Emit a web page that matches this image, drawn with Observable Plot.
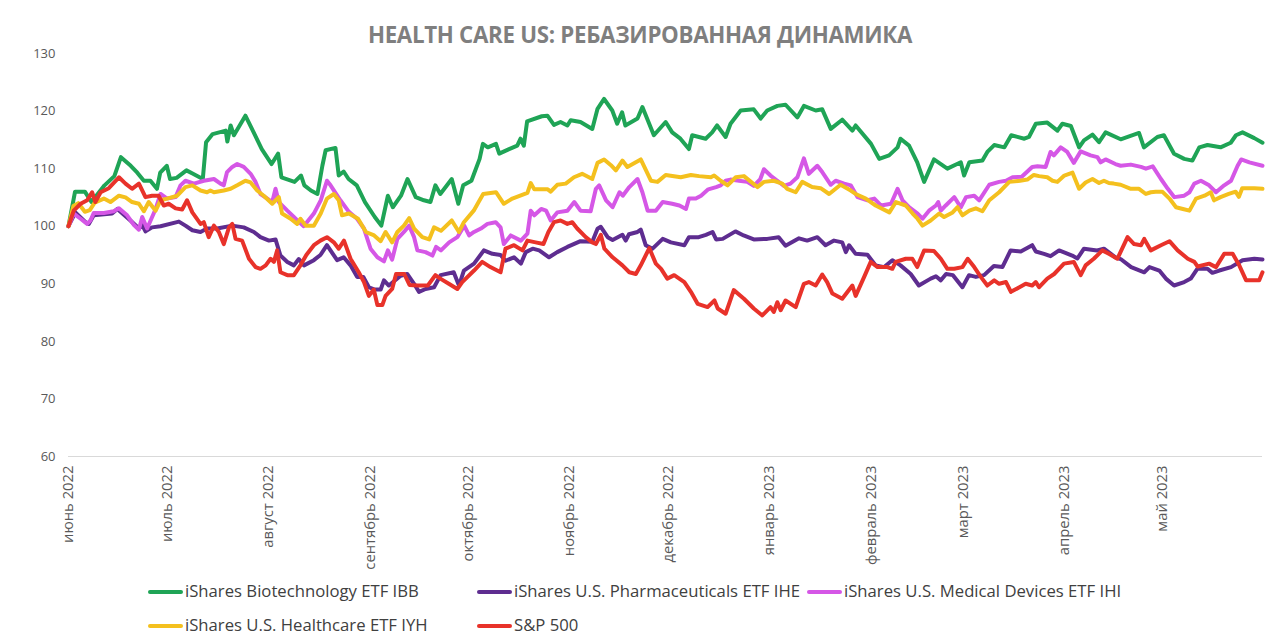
<!DOCTYPE html>
<html><head><meta charset="utf-8">
<script src="https://cdn.jsdelivr.net/npm/d3@7"></script>
<script src="https://cdn.jsdelivr.net/npm/@observablehq/plot@0.6"></script>
<style>
body{margin:0;background:#fff;}
#wrap{position:relative;width:1280px;height:642px;overflow:hidden;font-family:"Open Sans",sans-serif;}
#title{position:absolute;top:22px;left:0;width:1280px;text-align:center;font-size:22.3px;line-height:26px;font-weight:700;color:#7f7f7f;letter-spacing:-0.3px;}
#chart{position:absolute;top:0;left:0;}
.lg{position:absolute;font-size:16.7px;color:#404040;white-space:nowrap;line-height:20px;}
.lg i{display:inline-block;width:35px;height:4px;border-radius:2px;vertical-align:middle;margin-right:2px;position:relative;top:-1px;}
</style></head>
<body>
<div id="wrap">
<div id="title">HEALTH CARE US: РЕБАЗИРОВАННАЯ ДИНАМИКА</div>
<div id="chart"></div>
<div id="legend"></div>
</div>
<script>
const seriesNames = ["iShares Biotechnology ETF IBB","iShares U.S. Pharmaceuticals ETF IHE","iShares U.S. Medical Devices ETF IHI","iShares U.S. Healthcare ETF IYH","S&P 500"];
const seriesColors = ["#1fa456","#5e2d90","#d557e6","#f4c01e","#e8322a"];
const monthDates = ["2022-06-01","2022-07-01","2022-08-01","2022-09-01","2022-10-01","2022-11-01","2022-12-01","2023-01-01","2023-02-01","2023-03-01","2023-04-01","2023-05-01"];
const monthLabels = ["июнь 2022","июль 2022","август 2022","сентябрь 2022","октябрь 2022","ноябрь 2022","декабрь 2022","январь 2023","февраль 2023","март 2023","апрель 2023","май 2023"];
const yTicks = [60,70,80,90,100,110,120,130];
// [days since 2022-06-01, rebased value]
const IBB = [[0,100],[2,106],[5,106],[7,104.2],[11,107.1],[14,108.7],[16,112],[19,110.5],[21,109.3],[23,107.9],[25,107.9],[27,106.5],[28,109.3],[30,110.5],[31,108.2],[33,108.4],[36,109.7],[38,109.1],[41,108.2],[42,114.6],[44,116],[48,116.6],[48.5,114.7],[49.5,117.5],[50.5,115.8],[54,119.2],[56,116.9],[59,113.4],[62,110.8],[64,112.6],[65,108.5],[69,107.7],[71,108.8],[72,107.1],[74,106.2],[76,105.6],[77.5,110.5],[78.5,113.2],[81.5,113.6],[82.5,108.8],[84,109.5],[85.5,108.2],[88,107.1],[90.5,104.2],[93.5,101.6],[95.5,100.1],[97.5,105.3],[99,103.3],[101.5,105.3],[103.5,108.2],[106,105.05],[108.5,104.5],[110.5,104.2],[112,107.1],[113.5,105.6],[117,108.2],[119,103.9],[120.5,107.1],[123,107.9],[125.5,111.7],[126.5,114.3],[128,113.7],[130.5,114.3],[131.5,112.6],[134.5,113.4],[137,114],[138,115.2],[139,114],[140,118.2],[144.5,119.1],[146.2,119.2],[148.2,117.6],[150.2,118.1],[152.3,117.5],[153.3,118.4],[156.3,118.1],[159.9,116.9],[161.5,120.4],[163.5,122.1],[166,120.1],[167.5,117.8],[169,119.8],[170,117.5],[173.7,118.7],[175.2,120.7],[178.7,115.8],[182.3,118.1],[184.3,116.3],[186.8,115.2],[189.4,113.4],[190.4,115.8],[194.5,115.2],[196.5,116.3],[198,117.5],[200.6,115.5],[202.1,117.8],[205.2,120.1],[209.2,120.3],[211.3,118.7],[213.3,120.1],[216.4,120.9],[218.9,121.1],[222.5,118.9],[224.5,120.9],[228.1,120.1],[230.1,120.3],[232.7,116.9],[236.2,118.5],[239.3,116.6],[240.3,117.5],[245,114.3],[247.5,111.7],[250.5,112.3],[253.1,113.7],[254,115.2],[256.6,114],[259.1,111.1],[261.2,107.7],[264.2,111.6],[268.3,110],[272.4,111.1],[273.4,108.8],[275,111.1],[279,111.4],[280.5,112.9],[282.6,114.1],[285.7,113.7],[287.8,115.8],[291.8,115.2],[293.2,115.5],[295.3,117.8],[298.8,118],[301.9,116.6],[303.4,117.8],[306,117.4],[308.5,113.7],[310,114.9],[312.6,115.9],[314.6,114.6],[316.6,116.3],[321.2,115.1],[326.8,116.2],[328.3,113.7],[332.4,115.5],[334.4,115.8],[337.5,112.6],[340.6,111.7],[343.1,111.4],[345.2,113.7],[347.7,114.1],[351.7,113.7],[354.8,114.5],[356.4,115.8],[358.4,116.3],[362,115.3],[364.5,114.5]];
const IHE = [[0,100],[2.1,102.4],[5.2,100.7],[6.2,100.4],[7.7,101.9],[13.3,102.2],[14.9,103],[18.9,101],[21.5,99.6],[22.5,100.2],[23.5,99.1],[25.5,99.8],[28.1,100],[33.7,100.8],[35.7,100.1],[37.8,99.3],[40.3,99],[42.3,99.6],[45.4,99.6],[50,100.1],[53.5,99.8],[56.6,99],[58.6,98.1],[61.2,97.5],[63.2,97.7],[64.7,94.9],[66.8,93.8],[68.8,93.2],[70.3,94.3],[71.9,93.2],[74.9,94.1],[76.9,95],[78.9,96.7],[82,94.1],[84,94.6],[86.1,93.2],[88.1,91.2],[90,91.2],[91.7,89.4],[93.5,89],[95.3,89],[96.3,90.6],[97.8,89.7],[101.4,91.4],[103.4,91.7],[105.5,90],[107,88.6],[109,89.1],[111.6,89.4],[113.6,91.5],[117.6,92],[119.2,89.7],[120.7,92.3],[123.8,93.5],[126.8,95.8],[129.4,95.2],[131.9,95],[133.4,94],[136,94.6],[138.1,93.5],[139.6,95.5],[141.7,96.1],[143.7,95.8],[146.7,94.6],[149.2,95.5],[152.3,96.4],[156.3,97.4],[159.9,97.3],[161.5,99.55],[162.5,99.9],[164.6,98.1],[166.1,97.6],[169.1,98.5],[170.1,97.5],[171.1,98.6],[173.7,99],[174.7,99.4],[176.2,96.7],[178.3,96.1],[181.4,97.8],[183.9,97.2],[188,96.7],[189.4,98.1],[192.4,98.1],[194.6,98.5],[196.6,99],[197.7,97.7],[199.7,97.8],[203.6,99.1],[206.1,98.4],[209.2,97.7],[213.3,97.8],[216.8,98.1],[218.9,96.6],[223,97.9],[225.5,97.5],[228.6,98.1],[231.1,96.7],[233.7,97.5],[236.2,97.2],[237.3,95.5],[238.3,96.7],[240.3,95.2],[243.9,95.05],[246.4,93.2],[249,92.9],[251.5,94.1],[254,93.2],[257.1,91.7],[259.6,89.7],[263.2,90.9],[264.8,91.3],[266.3,90.6],[267.9,91.7],[270,91.5],[272.9,89.4],[274.9,91.5],[277,91.2],[279.5,91.5],[282.5,93.1],[285.1,92.9],[287.6,95.8],[290.7,95.6],[294.2,96.7],[295.3,95.6],[297.8,95.2],[299.8,94.8],[302.4,95.8],[306.4,94.9],[308,94.4],[310,96.1],[314,95.8],[316.1,96.1],[319.6,94.6],[321.2,94.3],[324.4,92.9],[328.4,92],[330,92.9],[333,92.3],[335,90.9],[337.5,89.7],[340.6,90.3],[342.6,90.9],[344.6,92.6],[347.7,92.6],[349.2,91.9],[351.3,92.3],[354.9,92.9],[358.4,94.1],[362,94.35],[364.5,94.2]];
const IHI = [[0,100],[1.6,102.2],[3.7,101.3],[5.7,100.4],[6.7,101],[7.7,102.3],[10.8,102.3],[13.8,102.6],[15.4,103.1],[17.9,101.9],[20,100.2],[21.5,99.4],[22.5,101.6],[24,99.6],[26.6,103],[28.1,105.6],[30.1,104.8],[32.7,105.05],[34.2,107.1],[35.7,107.9],[38.3,107.4],[41.3,107.9],[44.4,108.2],[46.4,107.4],[47.4,107.1],[48.4,109.4],[50,110.3],[51.5,110.8],[53.5,110.3],[55.6,109.1],[57.1,107.7],[58.6,105.6],[60.7,104.8],[62.2,104.2],[63.2,106.5],[64.2,104.2],[66.8,102.7],[68.8,101.6],[70.8,100.5],[71.8,100],[74.9,102.2],[77,104.5],[78.9,107.9],[80,107.1],[83,104.5],[85.6,102.5],[88.1,101.3],[90.2,99.6],[92.2,96.1],[94.3,94.6],[96.3,93.9],[97.5,95.8],[98.8,94.2],[100.4,97.8],[102.4,99],[104,100.1],[105.5,98.1],[106.5,95.8],[109,95.5],[111.1,94.9],[112.2,96.4],[113.7,95.8],[116.2,97.2],[118.7,98.1],[120.8,100.1],[122.3,98.4],[123.8,99],[125.9,99.6],[127.9,100.4],[130.4,100.7],[131.9,99.8],[132.9,96.9],[135,98.4],[138.1,97.5],[140.1,98.7],[141.1,102.7],[142.2,101.9],[144.3,103],[145.8,102.7],[147.2,101],[149.2,102.4],[152.3,102.7],[154.4,104.2],[156.3,102.7],[159.4,102.6],[161,106.5],[162,107.1],[164.1,104.5],[166.1,103.3],[168.2,105.9],[169.2,105.3],[171.2,106.8],[173.7,108.2],[175.2,105.9],[176.8,102.7],[179.3,102.7],[181.4,104.2],[184.3,103.9],[186.5,103.6],[188.5,103],[189.4,104.8],[191.5,104.8],[193.1,105.3],[195.3,106.4],[197.7,106.8],[199.1,107.1],[200.6,107.9],[202.1,108.1],[204.7,107.9],[207.2,107.7],[209.2,107],[211.2,108.2],[212.3,109.9],[214.3,108.8],[216.4,107.9],[218.4,107],[220.4,107.4],[222.5,108.5],[224.5,111.8],[226,109.1],[228.6,110.5],[230.1,109.4],[232.7,107.2],[234.2,107.9],[236.8,107.4],[238.8,107.1],[240.9,105.05],[243.9,104.5],[246,104.8],[248,103.6],[251.1,103.9],[253.1,106.5],[254.6,104.5],[256.6,103.3],[259.2,102.2],[260.7,101.3],[262.7,102.7],[264.8,103.6],[265.5,104.2],[266.3,102.7],[267.8,103.6],[270.4,105.05],[272.4,103.3],[274,105.05],[276.5,105.3],[278,104.5],[281.1,107.2],[284.1,107.7],[286.2,107.9],[288.2,108.5],[291,108.6],[294.2,110.3],[295.8,110.4],[298.3,110.3],[299.8,112.9],[300.8,112.3],[302.9,113.7],[304.9,112.9],[306.9,111],[309,113],[312,112.3],[314.1,112],[315.1,111.1],[316.6,111.6],[319.6,110.8],[321.2,110.5],[324.3,110.7],[327.4,110.3],[328.9,110],[331,110.4],[333.5,108.2],[335.6,106.5],[337.6,105.05],[340.6,105.3],[342.2,105.9],[343.7,107.4],[345.7,107.9],[348.2,107.1],[350.3,105.9],[352.8,107.1],[354.9,107.9],[356.9,110.5],[358,111.6],[360.5,111.1],[364.5,110.5]];
const IYH = [[0,100],[1.5,103.5],[3,104],[5,102.5],[6.5,102.8],[8,104.1],[10.8,104.8],[12.8,104.2],[15.4,105.3],[17.4,105],[19.4,104.2],[21.5,103.9],[23,102.6],[24.5,104.2],[26.6,102.7],[28.1,104.5],[30.1,104.8],[33.2,105.3],[35.7,106.8],[37.8,107.1],[40.3,106.2],[42.3,105.9],[43.3,106.2],[44.4,105.9],[47.4,106.2],[49.5,106.5],[51.5,107.1],[54,107.9],[55.6,107.6],[57.6,106.2],[59.6,105.3],[62.2,103.9],[64.2,105.05],[65.2,102.2],[67.8,101.3],[69.8,100.4],[70.8,101.3],[72.4,100.1],[74.9,100.1],[77,102.2],[78.9,104.8],[81,105.6],[82.5,104.5],[83.5,101.9],[85.6,102.2],[88.4,101.3],[90.8,99],[93.3,98.4],[95.3,97.4],[96.8,99],[98.8,97.2],[100.4,99],[102.4,100.1],[104,101.4],[105.5,99.6],[108,98.1],[110.1,97.7],[111.6,99.8],[113.7,99.2],[117,101],[119.2,99],[120.7,100.7],[123.7,102.7],[125.2,104.2],[126.6,105.6],[130.5,105.9],[132.9,103.9],[135.5,104.8],[140.1,105.8],[141.1,107.5],[142.2,106.4],[146.3,106.4],[147.2,106],[149.2,107.2],[151.8,107.4],[154.3,108.5],[156.8,109.1],[159.9,108.2],[161.5,111],[163.5,111.6],[165.6,110.6],[167.1,109.7],[169.1,111.4],[170.6,110.3],[174.7,111.6],[177.8,107.9],[179.8,107.7],[182.3,108.9],[186.9,108.5],[190,108.9],[192.5,108.7],[196.1,108.5],[197.1,108.8],[199.1,107.9],[201.2,107.1],[203.7,108.5],[206.2,108.7],[210.3,106.8],[212.3,107.7],[215.3,107.9],[217.9,107.4],[219.4,106.5],[222,105.9],[224,107.7],[227,106.8],[229.6,106.6],[232.2,105.6],[235.7,107.2],[238.8,106.2],[240.3,105.6],[243.4,104.8],[246.4,103.6],[250.6,102.4],[252.6,104.2],[255.6,103.6],[257.7,102.2],[259.2,101.3],[260.7,100.1],[263.2,101],[265.8,102.2],[267.3,101.6],[269.9,102.4],[271.4,103.3],[272.9,101.9],[275,102.7],[277,103.1],[279,102.6],[281.1,104.5],[284.1,105.9],[287.2,107.7],[290.5,107.9],[292.7,108.1],[294.7,108.9],[296.3,108.7],[298.8,108.5],[300.4,107.9],[301.9,107.7],[304,108.8],[306.5,109.3],[308.5,106.5],[310.5,107.6],[312.6,108.2],[314.6,107.5],[316.1,107.9],[317.6,107.5],[319.1,107.4],[321.2,107.2],[324.3,106.5],[326.8,106.5],[328.9,105.6],[330.4,105.9],[331.9,106],[333.9,106],[336.1,104.8],[338.1,103.3],[340.2,103],[342.2,102.7],[344.2,104.8],[346.8,105.3],[348.7,105.9],[349.7,104.5],[351.7,105.05],[354.2,105.6],[356.3,106],[357.3,105.1],[358.3,106.6],[362,106.6],[364.5,106.5]];
const SPX = [[0,100],[1.6,102.7],[3.7,103.9],[5.7,104.5],[7.2,105.9],[8.2,104.2],[9.8,105.9],[12.3,106.6],[15.4,108.5],[17.4,107.4],[19.4,106.5],[21.5,107.4],[23.5,105.05],[25.5,105.3],[27.5,105.3],[29.1,103.6],[30.6,103.9],[32.7,103.1],[34.7,102.9],[36.2,104.5],[37.8,102.4],[40.3,100.4],[41.3,100.7],[42.8,98.1],[44.4,100.1],[45.9,99],[47.4,96.9],[49,99.8],[50,100.4],[51,97.8],[53,97.5],[55.1,94.35],[57.1,92.9],[58.6,92.6],[60.2,93.2],[61.7,94.35],[62.7,93.8],[63.7,95.8],[64.7,92],[66.8,91.5],[68.8,91.5],[70.8,93.2],[72.6,95],[74.9,96.7],[76.9,97.5],[78.9,98.1],[81,97.2],[82.5,96.1],[84.1,97.5],[86.1,94.35],[88.6,92],[90.2,90.3],[91.7,87.9],[93.2,89],[94.3,86.3],[95.8,86.3],[96.8,87.9],[98.8,89.1],[100,91.7],[102.5,91.7],[104.1,89.8],[106.6,89.7],[109.7,89.7],[112,91.5],[113.5,90.9],[116.1,90],[118.7,89.1],[120.2,90.3],[123.8,92.3],[126.3,93.8],[128.8,92.9],[131.9,92],[133.4,96.1],[136,96.7],[138.6,95.8],[140.1,97.5],[142.6,97.2],[145,96.9],[146.5,99],[148.2,100.7],[150.2,101],[152.3,100.4],[153.8,100.7],[155.3,99.6],[157.9,98.1],[159.9,97.2],[161,96.9],[162.5,98.5],[163.6,96.1],[166.1,94.6],[169.1,93.2],[171.2,92],[173.2,91.7],[174.7,93.2],[177.3,96.2],[179.3,93.5],[180.9,92.6],[182.8,90.9],[184.9,91.5],[188,90.3],[190,88.6],[192.1,86.5],[195.1,85.95],[197.2,87.1],[198.2,85.7],[200.6,84.8],[203.1,88.9],[206.2,87.4],[209.2,85.7],[211.8,84.5],[214.3,85.95],[215.3,85.1],[216.4,86.8],[217.4,85.4],[218.9,87.1],[222,85.95],[224.5,90],[226,90.3],[228.1,89.7],[230.1,91.6],[231.6,90.3],[233.2,88.3],[236.2,87.4],[239.3,89.7],[240.3,87.9],[242.9,91.2],[244.9,93.8],[247,92.9],[250,92.9],[251.5,92.6],[252.5,93.8],[255.6,94.35],[257.6,94.35],[259.1,92.9],[261.2,95.8],[264.2,95.7],[266.3,94.35],[268.3,92.6],[270.4,92.6],[272.9,92.9],[274.5,94.35],[276.5,92.9],[278.5,91.2],[280.5,89.7],[282.6,90.6],[284.1,90],[286.2,90.3],[287.7,88.6],[290.3,89.4],[292.2,90],[294.2,89.7],[295.3,90.3],[296.3,89.4],[298.8,90.9],[300.9,91.7],[303.9,93.5],[306.9,93.8],[309,91.5],[310.5,93.2],[313,94.35],[315.6,95.8],[317.6,95.2],[320.2,94.35],[323.3,98.1],[325.3,96.9],[327.4,96.7],[328.4,97.8],[330.4,95.8],[333.5,96.7],[336.1,97.4],[338.6,95.8],[341.7,94.35],[343.7,93.8],[344.7,93],[348.2,93.5],[350.3,92.9],[352.8,95.2],[355.4,95.2],[357.4,93.2],[359.5,90.6],[363.5,90.6],[364.5,92]];

const startMs = Date.UTC(2022, 5, 1);
const seriesData = [IBB, IHE, IHI, IYH, SPX];
const rows = seriesData.flatMap((arr, k) => arr.map(([d, v]) => ({date: new Date(startMs + d * 864e5), value: v, series: seriesNames[k]})));
const tickDates = monthDates.map(s => new Date(s + "T00:00:00Z"));
const labelOf = new Map(tickDates.map((d, i) => [+d, monthLabels[i]]));

const chart = Plot.plot({
  width: 1280, height: 580,
  marginTop: 53, marginBottom: 124, marginLeft: 68, marginRight: 18,
  style: {fontFamily: "'Open Sans', sans-serif", color: "#595959", background: "transparent"},
  x: {type: "utc", domain: [new Date(startMs), new Date(startMs + 364.5 * 864e5)]},
  y: {domain: [60, 130]},
  color: {domain: seriesNames, range: seriesColors},
  marks: [
    Plot.axisY({ticks: yTicks, tickSize: 0, tickPadding: 13, fontSize: 13, label: null, tickFormat: d => String(d)}),
    Plot.axisX({ticks: tickDates, tickFormat: d => labelOf.get(+d), tickRotate: -90, tickSize: 0, tickPadding: 9, fontSize: 14.8, label: null}),
    Plot.ruleY([60], {stroke: "#d9d9d9", strokeWidth: 1.2}),
    Plot.line(rows, {x: "date", y: "value", z: "series", stroke: "series", strokeWidth: 4, strokeLinejoin: "round", strokeLinecap: "round"})
  ]
});
document.getElementById("chart").appendChild(chart);

const legendPos = [[148,581],[477,581],[807,581],[148,615],[477,615]];
const lg = document.getElementById("legend");
seriesNames.forEach((name, i) => {
  const el = document.createElement("div");
  el.className = "lg";
  el.style.left = legendPos[i][0] + "px";
  el.style.top = legendPos[i][1] + "px";
  const sw = document.createElement("i");
  sw.style.background = seriesColors[i];
  el.appendChild(sw);
  el.appendChild(document.createTextNode(name));
  lg.appendChild(el);
});
</script>
</body></html>
